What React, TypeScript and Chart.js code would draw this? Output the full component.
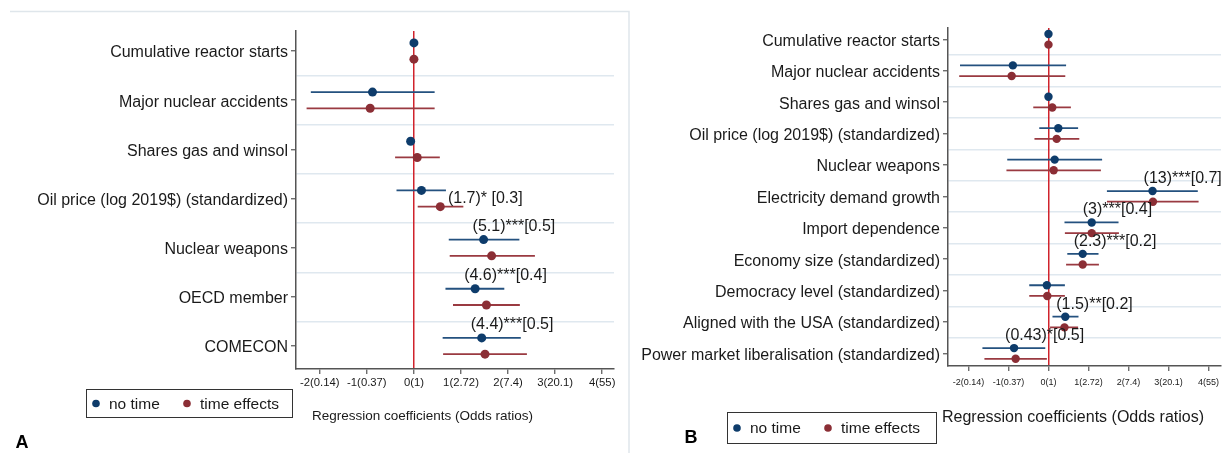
import React, { useEffect, useRef } from 'react';
import { Chart, registerables } from 'chart.js';

Chart.register(...registerables);

const FONT = '"Liberation Sans", Arial, Helvetica, sans-serif';
const NAVY = '#0e3c6b';
const NAVY_LINE = '#24517f';
const MAROON = '#8b2e35';
const MAROON_LINE = '#9a3a41';
const REF_RED = '#d0232c';
const AXIS = '#555555';
const GRID = '#dfe8ef';
const TEXT = '#1a1a1a';

// ---------- shared axis ----------
const xTickValues = [-2, -1, 0, 1, 2, 3, 4];
const xTickLabels = ['-2(0.14)', '-1(0.37)', '0(1)', '1(2.72)', '2(7.4)', '3(20.1)', '4(55)'];
const seriesNames = ['no time', 'time effects'];
const axisTitle = 'Regression coefficients (Odds ratios)';

// ---------- Panel A ----------
const categoriesA = [
  'Cumulative reactor starts',
  'Major nuclear accidents',
  'Shares gas and winsol',
  'Oil price (log 2019$) (standardized)',
  'Nuclear weapons',
  'OECD member',
  'COMECON',
];
const noTimeA = [0.0, -0.88, -0.07, 0.16, 1.48, 1.3, 1.44];
const noTimeLowA = [null, -2.19, null, -0.37, 0.74, 0.67, 0.61];
const noTimeHighA = [null, 0.44, null, 0.68, 2.24, 1.92, 2.27];
const timeA = [0.0, -0.93, 0.07, 0.56, 1.65, 1.54, 1.51];
const timeLowA = [null, -2.28, -0.4, 0.08, 0.76, 0.83, 0.62];
const timeHighA = [null, 0.44, 0.55, 1.05, 2.57, 2.25, 2.4];
const labelsA = [null, null, null, '(1.7)* [0.3]', '(5.1)***[0.5]', '(4.6)***[0.4]', '(4.4)***[0.5]'];

// ---------- Panel B ----------
const categoriesB = [
  'Cumulative reactor starts',
  'Major nuclear accidents',
  'Shares gas and winsol',
  'Oil price (log 2019$) (standardized)',
  'Nuclear weapons',
  'Electricity demand growth',
  'Import dependence',
  'Economy size (standardized)',
  'Democracy level (standardized)',
  'Aligned with the USA (standardized)',
  'Power market liberalisation (standardized)',
];
const noTimeB = [0.0, -0.89, 0.0, 0.245, 0.155, 2.6, 1.08, 0.855, -0.04, 0.42, -0.86];
const noTimeLowB = [null, -2.21, null, -0.23, -1.03, 1.46, 0.4, 0.47, -0.48, 0.1, -1.65];
const noTimeHighB = [null, 0.44, null, 0.74, 1.34, 3.73, 1.75, 1.25, 0.41, 0.75, -0.08];
const timeB = [0.0, -0.92, 0.095, 0.205, 0.13, 2.61, 1.08, 0.855, -0.03, 0.4, -0.82];
const timeLowB = [null, -2.23, -0.38, -0.35, -1.05, 1.46, 0.41, 0.44, -0.48, 0.04, -1.6];
const timeHighB = [null, 0.42, 0.56, 0.77, 1.31, 3.75, 1.76, 1.26, 0.41, 0.74, -0.04];
const labelsB = [null, null, null, null, null, '(13)***[0.7]', '(3)***[0.4]', '(2.3)***[0.2]', null, '(1.5)**[0.2]', '(0.43)*[0.5]'];

type Panel = {
  categories: string[];
  noTime: number[];
  noTimeLow: (number | null)[];
  noTimeHigh: (number | null)[];
  time: number[];
  timeLow: (number | null)[];
  timeHigh: (number | null)[];
  labels: (string | null)[];
  rightLabels: number[];
  canvasW: number;
  pad: { top: number; right: number; bottom: number; left: number };
  yAxisW: number;
  xAxisH: number;
  xMin: number;
  xMax: number;
  yPadTop: number;
  yPadBottom: number;
  catFont: number;
  tickFont: number;
  tickPad: number;
  pointR: number;
  rowOffset: number;
  labelDx: number;
  labelDy: number;
  title: { x: number; y: number; size: number };
  legend: { x: number; y: number; w: number; h: number; size: number };
  letter: { text: string; x: number; y: number };
  frame: boolean;
};

const PANEL_A: Panel = {
  categories: categoriesA,
  noTime: noTimeA,
  noTimeLow: noTimeLowA,
  noTimeHigh: noTimeHighA,
  time: timeA,
  timeLow: timeLowA,
  timeHigh: timeHighA,
  labels: labelsA,
  rightLabels: [3],
  canvasW: 630,
  pad: { top: 31, right: 16, bottom: 24, left: 0 },
  yAxisW: 296,
  xAxisH: 60,
  xMin: -2.505,
  xMax: 4.25,
  yPadTop: 0.407,
  yPadBottom: 0.467,
  catFont: 16,
  tickFont: 11.3,
  tickPad: 2,
  pointR: 4.5,
  rowOffset: 0.165,
  labelDx: -11,
  labelDy: -13,
  title: { x: 422.5, y: 416, size: 13.5 },
  legend: { x: 86, y: 389, w: 206, h: 28, size: 15.5 },
  letter: { text: 'A', x: 22, y: 443 },
  frame: true,
};

const PANEL_B: Panel = {
  categories: categoriesB,
  noTime: noTimeB,
  noTimeLow: noTimeLowB,
  noTimeHigh: noTimeHighB,
  time: timeB,
  timeLow: timeLowB,
  timeHigh: timeHighB,
  labels: labelsB,
  rightLabels: [],
  canvasW: 598,
  pad: { top: 28, right: 7, bottom: 27, left: 0 },
  yAxisW: 318,
  xAxisH: 60,
  xMin: -2.51,
  xMax: 4.31,
  yPadTop: 0.36,
  yPadBottom: 0.4,
  catFont: 16,
  tickFont: 9,
  tickPad: 6,
  pointR: 4.2,
  rowOffset: 0.17,
  labelDx: -9,
  labelDy: -12.5,
  title: { x: 443, y: 418, size: 16 },
  legend: { x: 97, y: 412, w: 209, h: 31, size: 15.5 },
  letter: { text: 'B', x: 61, y: 438 },
  frame: false,
};

const CANVAS_H = 453;

function pointsOf(values: number[], offset: number) {
  return values.map((v, i) => ({ x: v, y: i + offset }));
}

function ciOf(lo: (number | null)[], hi: (number | null)[], offset: number) {
  const out: { x: number | null; y: number | null }[] = [];
  lo.forEach((l, i) => {
    const h = hi[i];
    if (l === null || h === null) return;
    out.push({ x: l, y: i + offset }, { x: h, y: i + offset }, { x: null, y: null });
  });
  return out;
}

function makeDecor(p: Panel) {
  return {
    id: 'decor',
    afterDatasetsDraw(chart: any) {
      const ctx = chart.ctx as CanvasRenderingContext2D;
      const xs = chart.scales.x;
      const ys = chart.scales.y;
      ctx.save();
      ctx.font = `16px ${FONT}`;
      ctx.fillStyle = TEXT;
      ctx.textBaseline = 'middle';
      ctx.textAlign = 'left';
      p.labels.forEach((t, i) => {
        if (!t) return;
        const bx = xs.getPixelForValue(p.noTime[i]);
        const by = ys.getPixelForValue(i - p.rowOffset);
        if (p.rightLabels.includes(i)) {
          const hx = xs.getPixelForValue(p.noTimeHigh[i] as number);
          ctx.fillText(t, hx + 2, by + 8);
        } else {
          ctx.fillText(t, bx + p.labelDx, by + p.labelDy);
        }
      });
      ctx.restore();
    },
    afterDraw(chart: any) {
      const ctx = chart.ctx as CanvasRenderingContext2D;
      ctx.save();
      if (p.frame) {
        ctx.strokeStyle = '#dfe6eb';
        ctx.lineWidth = 1.5;
        ctx.beginPath();
        ctx.moveTo(10, 11.5);
        ctx.lineTo(629, 11.5);
        ctx.lineTo(629, CANVAS_H);
        ctx.stroke();
      }
      // axis title
      ctx.fillStyle = TEXT;
      ctx.textBaseline = 'middle';
      ctx.textAlign = 'center';
      ctx.font = `${p.title.size}px ${FONT}`;
      ctx.fillText(axisTitle, p.title.x, p.title.y);
      // legend
      const L = p.legend;
      ctx.strokeStyle = '#333333';
      ctx.lineWidth = 1;
      ctx.strokeRect(L.x + 0.5, L.y + 0.5, L.w, L.h);
      const cy = L.y + L.h / 2 + 0.5;
      const colors = [NAVY, MAROON];
      const dotX = [L.x + 10, L.x + 101];
      const txtX = [L.x + 23, L.x + 114];
      ctx.font = `${L.size}px ${FONT}`;
      ctx.textAlign = 'left';
      seriesNames.forEach((n, k) => {
        ctx.fillStyle = colors[k];
        ctx.beginPath();
        ctx.arc(dotX[k], cy, 3.8, 0, Math.PI * 2);
        ctx.fill();
        ctx.fillStyle = TEXT;
        ctx.fillText(n, txtX[k], cy + 1);
      });
      // panel letter
      ctx.font = `bold 18px ${FONT}`;
      ctx.textAlign = 'center';
      ctx.fillStyle = '#000000';
      ctx.fillText(p.letter.text, p.letter.x, p.letter.y);
      ctx.restore();
    },
  };
}

function makeChart(canvas: HTMLCanvasElement, p: Panel) {
  const n = p.categories.length;
  const yTicks: number[] = [];
  for (let i = 0; i < n; i++) {
    yTicks.push(i);
    if (i < n - 1) yTicks.push(i + 0.5);
  }
  const isInt = (v: number) => Math.abs(v - Math.round(v)) < 1e-6;

  return new Chart(canvas, {
    type: 'scatter',
    data: {
      datasets: [
        {
          label: seriesNames[0],
          data: pointsOf(p.noTime, -p.rowOffset),
          backgroundColor: NAVY,
          borderColor: NAVY,
          pointRadius: p.pointR,
          pointHoverRadius: p.pointR,
          pointBorderWidth: 0,
          order: 0,
        },
        {
          label: seriesNames[1],
          data: pointsOf(p.time, p.rowOffset),
          backgroundColor: MAROON,
          borderColor: MAROON,
          pointRadius: p.pointR,
          pointHoverRadius: p.pointR,
          pointBorderWidth: 0,
          order: 0,
        },
        {
          label: seriesNames[0] + ' CI',
          data: ciOf(p.noTimeLow, p.noTimeHigh, -p.rowOffset) as any,
          showLine: true,
          spanGaps: false,
          borderColor: NAVY_LINE,
          borderWidth: 1.8,
          pointRadius: 0,
          pointHoverRadius: 0,
          order: 1,
        },
        {
          label: seriesNames[1] + ' CI',
          data: ciOf(p.timeLow, p.timeHigh, p.rowOffset) as any,
          showLine: true,
          spanGaps: false,
          borderColor: MAROON_LINE,
          borderWidth: 1.8,
          pointRadius: 0,
          pointHoverRadius: 0,
          order: 1,
        },
      ],
    },
    options: {
      animation: false,
      responsive: false,
      maintainAspectRatio: false,
      devicePixelRatio: 1,
      events: [],
      layout: { padding: p.pad },
      plugins: {
        legend: { display: false },
        tooltip: { enabled: false },
        title: { display: false },
      },
      scales: {
        x: {
          type: 'linear',
          position: 'bottom',
          min: p.xMin,
          max: p.xMax,
          afterBuildTicks: (s: any) => {
            s.ticks = xTickValues.map((v) => ({ value: v }));
          },
          afterFit: (s: any) => {
            s.height = p.xAxisH;
          },
          ticks: {
            autoSkip: false,
            maxRotation: 0,
            minRotation: 0,
            padding: p.tickPad,
            color: TEXT,
            font: { family: FONT, size: p.tickFont },
            callback: (v: any) => {
              const k = xTickValues.indexOf(Number(v));
              return k >= 0 ? xTickLabels[k] : '';
            },
          },
          grid: {
            z: -0.5,
            drawOnChartArea: true,
            drawTicks: true,
            tickLength: 5,
            tickWidth: 1.2,
            tickColor: AXIS,
            lineWidth: 1.5,
            color: (c: any) => (c.tick && c.tick.value === 0 ? REF_RED : 'rgba(0,0,0,0)'),
          },
          border: { display: true, color: AXIS, width: 1.5 },
        },
        y: {
          type: 'linear',
          reverse: true,
          min: -p.yPadTop,
          max: n - 1 + p.yPadBottom,
          afterBuildTicks: (s: any) => {
            s.ticks = yTicks.map((v) => ({ value: v }));
          },
          afterFit: (s: any) => {
            s.width = p.yAxisW;
          },
          ticks: {
            autoSkip: false,
            padding: 3,
            labelOffset: 2,
            color: TEXT,
            font: { family: FONT, size: p.catFont },
            callback: (v: any) => {
              const num = Number(v);
              return isInt(num) ? p.categories[Math.round(num)] : '';
            },
          },
          grid: {
            drawOnChartArea: true,
            drawTicks: true,
            tickLength: 5,
            tickWidth: 1.2,
            lineWidth: 1.5,
            tickColor: (c: any) => (c.tick && isInt(c.tick.value) ? AXIS : 'rgba(0,0,0,0)'),
            color: (c: any) => (c.tick && !isInt(c.tick.value) ? GRID : 'rgba(0,0,0,0)'),
          },
          border: { display: true, color: AXIS, width: 1.5 },
        },
      },
    },
    plugins: [makeDecor(p)],
  } as any);
}

export default function App() {
  const refA = useRef<HTMLCanvasElement>(null);
  const refB = useRef<HTMLCanvasElement>(null);

  useEffect(() => {
    const a = makeChart(refA.current as HTMLCanvasElement, PANEL_A);
    const b = makeChart(refB.current as HTMLCanvasElement, PANEL_B);
    return () => {
      a.destroy();
      b.destroy();
    };
  }, []);

  return (
    <div
      style={{
        position: 'absolute',
        left: 0,
        top: 0,
        width: 1228,
        height: CANVAS_H,
        background: '#ffffff',
        overflow: 'hidden',
      }}
    >
      <canvas
        ref={refA}
        width={PANEL_A.canvasW}
        height={CANVAS_H}
        style={{ position: 'absolute', left: 0, top: 0, width: PANEL_A.canvasW, height: CANVAS_H }}
      />
      <canvas
        ref={refB}
        width={PANEL_B.canvasW}
        height={CANVAS_H}
        style={{ position: 'absolute', left: PANEL_A.canvasW, top: 0, width: PANEL_B.canvasW, height: CANVAS_H }}
      />
    </div>
  );
}
